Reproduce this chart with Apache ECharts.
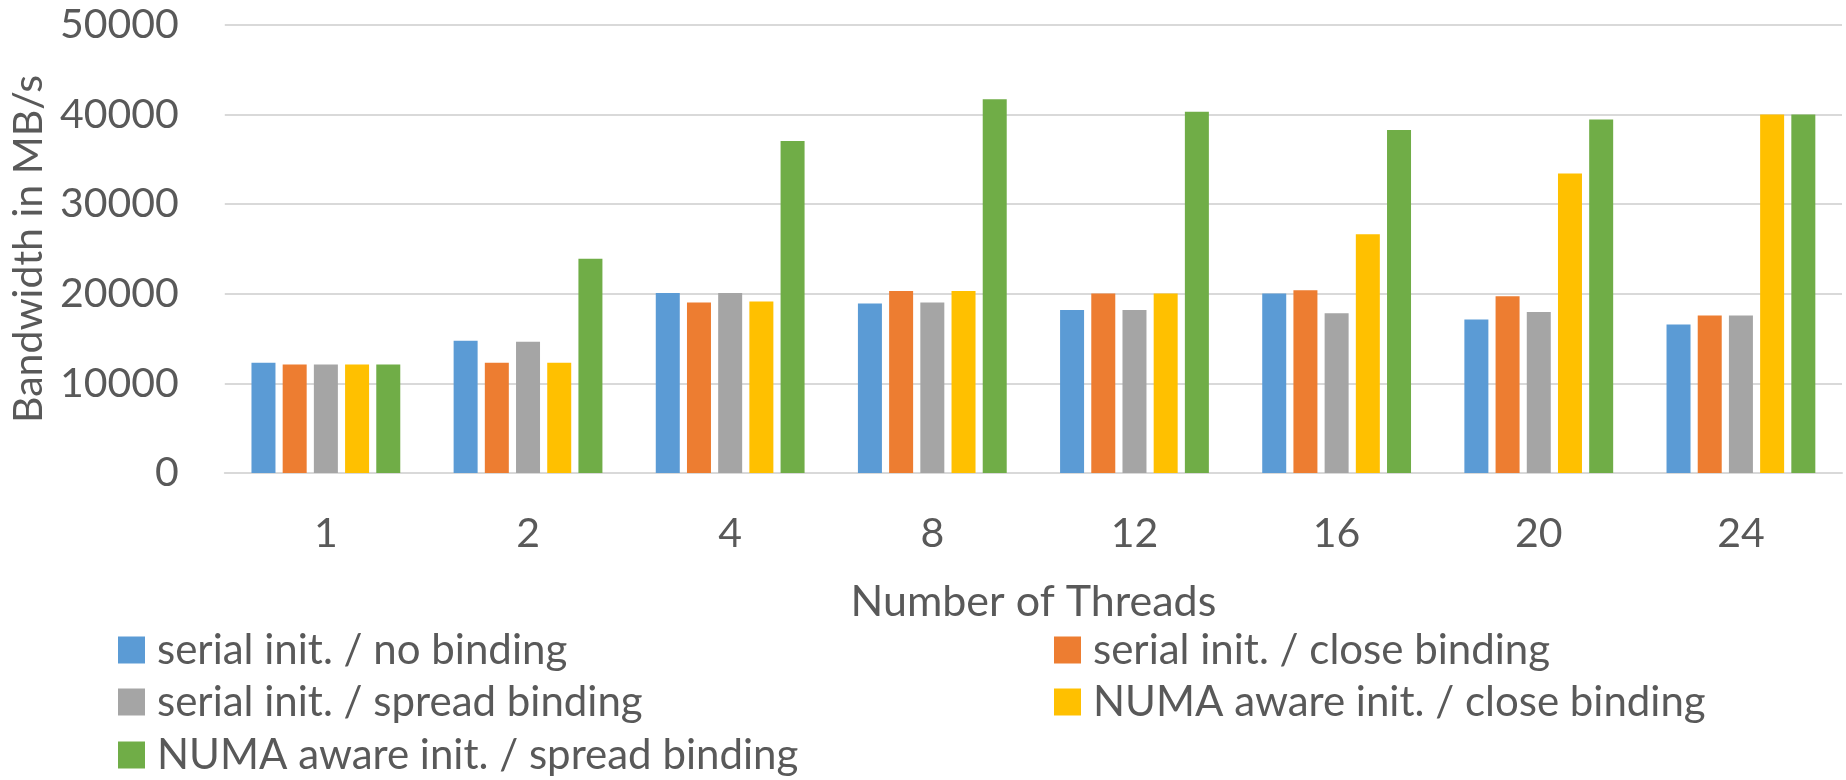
<!DOCTYPE html>
<html>
<head>
<meta charset="utf-8">
<script src="https://cdn.jsdelivr.net/npm/echarts@6/dist/echarts.min.js"></script>
<style>
html,body{margin:0;padding:0;background:#fff;}
#chart{width:1846px;height:780px;}
</style>
</head>
<body>
<div id="chart"></div>
<script>
const categories = ['1', '2', '4', '8', '12', '16', '20', '24'];
const seriesNames = [
  'serial init. / no binding',
  'serial init. / close binding',
  'serial init. / spread binding',
  'NUMA aware init. / close binding',
  'NUMA aware init. / spread binding'
];
const serialNoBinding     = [12300, 14750, 20100, 18920, 18200, 20040, 17140, 16580];
const serialCloseBinding  = [12100, 12300, 19030, 20300, 20040, 20400, 19740, 17580];
const serialSpreadBinding = [12100, 14650, 20100, 19030, 18200, 17840, 17960, 17580];
const numaCloseBinding    = [12100, 12300, 19150, 20300, 20040, 26650, 33420, 40000];
const numaSpreadBinding   = [12100, 23900, 37060, 41700, 40330, 38290, 39440, 40000];
const yTicks = [0, 10000, 20000, 30000, 40000, 50000];

const values = [serialNoBinding, serialCloseBinding, serialSpreadBinding, numaCloseBinding, numaSpreadBinding];
const colors = ['#5B9BD5', '#ED7D31', '#A5A5A5', '#FFC000', '#70AD47'];
const FONT = 'Lato';
const TXT = '#595959';

// legend placement: [left, top] for each series entry
const legendPos = [[118, 629], [1054, 629], [118, 681], [1054, 681], [118, 734]];

const chart = echarts.init(document.getElementById('chart'), null, {renderer: 'canvas'});
const option = {
  animation: false,
  textStyle: {fontFamily: FONT, color: TXT},
  grid: {left: 223, right: 4, top: 25, bottom: 307, containLabel: false},
  xAxis: {
    type: 'category',
    data: categories,
    name: 'Number of Threads',
    nameLocation: 'middle',
    nameGap: 108,
    nameTextStyle: {fontFamily: FONT, fontSize: 43, color: TXT},
    axisLine: {lineStyle: {color: '#D9D9D9', width: 2}},
    axisTick: {show: false},
    axisLabel: {fontFamily: FONT, fontSize: 41, color: TXT, margin: 40}
  },
  yAxis: {
    type: 'value',
    min: yTicks[0],
    max: yTicks[yTicks.length - 1],
    interval: 10000,
    name: 'Bandwidth in MB/s',
    nameLocation: 'middle',
    nameRotate: 90,
    nameGap: 166,
    nameTextStyle: {fontFamily: FONT, fontSize: 41, color: TXT},
    axisLine: {show: false},
    axisTick: {show: false},
    splitLine: {lineStyle: {color: '#D9D9D9', width: 2}},
    axisLabel: {fontFamily: FONT, fontSize: 41, color: TXT, margin: 46, formatter: v => String(v)}
  },
  legend: seriesNames.map((n, i) => ({
    data: [n],
    left: legendPos[i][0], top: legendPos[i][1],
    padding: 0,
    itemWidth: 27, itemHeight: 27,
    icon: 'rect',
    selectedMode: false,
    textStyle: {fontFamily: FONT, fontSize: 42, color: TXT, lineHeight: 42, padding: [0, 0, 0, 7]}
  })),
  series: seriesNames.map((n, i) => ({
    name: n,
    type: 'bar',
    data: values[i],
    barWidth: 24,
    barGap: '30%',
    itemStyle: {color: colors[i]}
  }))
};
chart.setOption(option);
</script>
</body>
</html>
